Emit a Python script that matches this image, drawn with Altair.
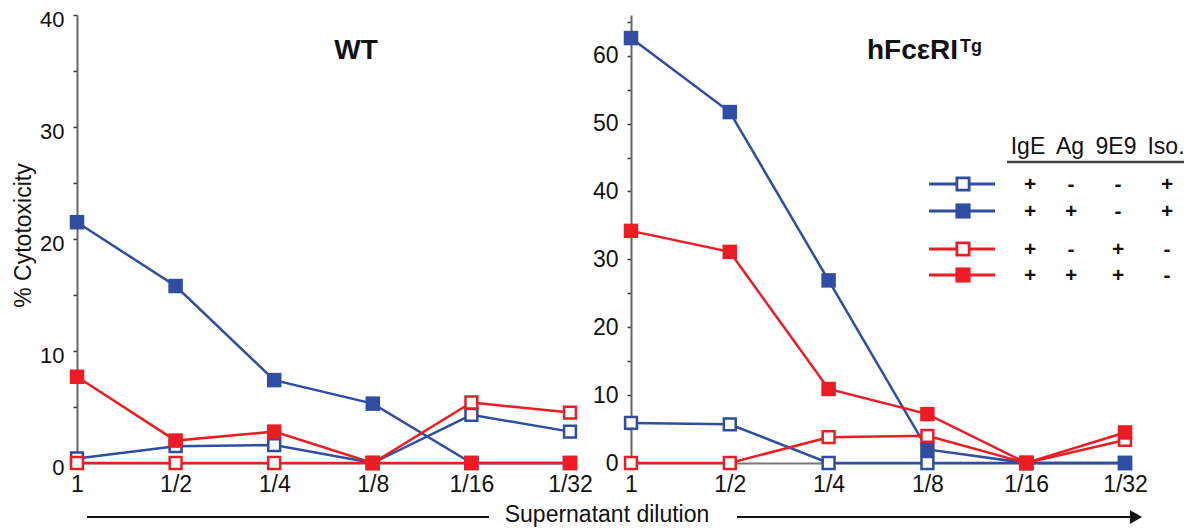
import altair as alt
import pandas as pd

# ---------------- data ----------------
dilutions = ["1", "1/2", "1/4", "1/8", "1/16", "1/32"]
series_names = ["IgE+Iso", "IgE+Ag+Iso", "IgE+9E9", "IgE+Ag+9E9"]
series_colors = ["#2F4DA1", "#2F4DA1", "#EC1C24", "#EC1C24"]
series_filled = [False, True, False, True]

# WT panel (% cytotoxicity)
wt_blue_open = [0.4, 1.5, 1.6, 0.0, 4.3, 2.8]
wt_blue_filled = [21.5, 15.8, 7.4, 5.3, 0.0, 0.0]
wt_red_open = [0.0, 0.0, 0.0, 0.0, 5.4, 4.5]
wt_red_filled = [7.7, 2.0, 2.8, 0.0, 0.0, 0.0]

# hFceRI Tg panel (% cytotoxicity)
tg_blue_open = [5.9, 5.7, 0.0, 0.0, 0.0, 0.0]
tg_blue_filled = [62.6, 51.7, 26.9, 2.0, 0.0, 0.0]
tg_red_open = [0.0, 0.0, 3.8, 4.0, 0.0, 3.4]
tg_red_filled = [34.2, 31.1, 10.9, 7.2, 0.0, 4.5]

legend_header = ["IgE", "Ag", "9E9", "Iso."]
legend_signs = [
    ["+", "-", "-", "+"],
    ["+", "+", "-", "+"],
    ["+", "-", "+", "-"],
    ["+", "+", "+", "-"],
]

FONT = "Liberation Sans"
PANEL_W = 493
PANEL_H = 448

one = pd.DataFrame({"k": [0]})


def label_expr():
    arr = ",".join("'%s'" % d for d in dilutions)
    return "[%s][datum.value]" % arr


def panel(values, ymax, ytitle, label_offset, label_size):
    xenc = alt.X(
        "x:Q",
        scale=alt.Scale(domain=[0, len(dilutions) - 1], nice=False, zero=False),
        axis=alt.Axis(
            values=list(range(len(dilutions))),
            labelExpr=label_expr(),
            ticks=False,
            domainColor="#777777",
            domainWidth=2,
            labelFontSize=23,
            labelPadding=10,
            labelColor="#111111",
            labelFlush=False,
            labelOverlap=False,
            grid=False,
            title=None,
        ),
    )
    yvals = list(range(0, int(ymax) + 1, 5))
    yaxis_kwargs = dict(
        values=yvals,
        labelExpr="datum.value % 10 == 0 ? datum.label : ''",
        tickSize=4,
        tickColor="#333333",
        tickWidth=1.5,
        domainColor="#666666",
        domainWidth=2,
        labelFontSize=label_size,
        labelPadding=9,
        labelOffset=label_offset,
        labelColor="#111111",
        labelOverlap=False,
        labelFlush=False,
        grid=False,
    )
    if ytitle:
        yaxis_kwargs.update(
            title=ytitle, titleFontSize=23, titleFontWeight="normal",
            titleColor="#111111", titleX=-47, titleY=220, titleAngle=270,
            titleAlign="center", titleBaseline="alphabetic",
        )
    else:
        yaxis_kwargs.update(title=None)
    yenc = alt.Y(
        "y:Q",
        scale=alt.Scale(domain=[0, ymax], nice=False),
        axis=alt.Axis(**yaxis_kwargs),
    )
    layers = []
    for i, name in enumerate(series_names):
        df = pd.DataFrame({"x": list(range(len(dilutions))), "y": values[i], "s": name})
        base = alt.Chart(df)
        c = series_colors[i]
        layers.append(base.mark_line(color=c, strokeWidth=2.5).encode(x=xenc, y=yenc))
        if series_filled[i]:
            pts = base.mark_point(shape="square", filled=True, fill=c, size=210,
                                  opacity=1, strokeWidth=0)
        else:
            pts = base.mark_point(shape="square", filled=True, fill="white",
                                  stroke=c, strokeWidth=2.5, size=140, opacity=1)
        layers.append(pts.encode(x=xenc, y=yenc))
    return layers


left_layers = panel([wt_blue_open, wt_blue_filled, wt_red_open, wt_red_filled], 40,
                    "% Cytotoxicity", 4, 22)
right_layers = panel([tg_blue_open, tg_blue_filled, tg_red_open, tg_red_filled], 66, None, 0, 23)

# ---- panel titles ----
left_layers.append(
    alt.Chart(pd.DataFrame({"t": ["WT"]})).mark_text(
        font=FONT, fontSize=28, fontWeight="bold", align="center", baseline="alphabetic",
        color="#111111",
    ).encode(text="t:N", x=alt.value(279), y=alt.value(44))
)
right_layers.append(
    alt.Chart(pd.DataFrame({"t": ["hFcεRI"]})).mark_text(
        font=FONT, fontSize=28, fontWeight="bold", align="right", baseline="alphabetic",
        color="#111111",
    ).encode(text="t:N", x=alt.value(327), y=alt.value(44))
)
right_layers.append(
    alt.Chart(pd.DataFrame({"t": ["Tg"]})).mark_text(
        font=FONT, fontSize=18, fontWeight="bold", align="left", baseline="alphabetic",
        color="#111111",
    ).encode(text="t:N", x=alt.value(329), y=alt.value(37))
)

# ---- bottom axis caption with arrow ----
left_layers.append(
    alt.Chart(pd.DataFrame({"t": ["Supernatant dilution"]})).mark_text(
        font=FONT, fontSize=23, align="center", baseline="middle", color="#111111",
    ).encode(text="t:N", x=alt.value(530), y=alt.value(500))
)
left_layers.append(
    alt.Chart(one).mark_rule(color="#111111", strokeWidth=2).encode(
        x=alt.value(10), x2=alt.value(412), y=alt.value(502))
)
right_layers.append(
    alt.Chart(one).mark_rule(color="#111111", strokeWidth=2).encode(
        x=alt.value(106), x2=alt.value(502), y=alt.value(502))
)
right_layers.append(
    alt.Chart(one).mark_point(shape="triangle-right", filled=True, fill="#111111",
                              size=200, opacity=1, strokeWidth=0).encode(
        x=alt.value(505), y=alt.value(502))
)

# ---- legend table ----
header_x = [397, 439, 485, 535]
sign_x = [399, 440, 487, 536]
row_y = [169, 196, 234, 260]

hdr = pd.DataFrame({"t": legend_header, "px": header_x})
right_layers.append(
    alt.Chart(hdr).mark_text(font=FONT, fontSize=23, align="center", baseline="middle",
                             color="#111111").encode(
        text="t:N", x=alt.X("px:Q", scale=None), y=alt.value(132))
)
right_layers.append(
    alt.Chart(one).mark_rule(color="#444444", strokeWidth=2.5).encode(
        x=alt.value(376), x2=alt.value(555), y=alt.value(147))
)
for r, signs in enumerate(legend_signs):
    c = series_colors[r]
    yv = row_y[r]
    right_layers.append(
        alt.Chart(one).mark_rule(color=c, strokeWidth=3).encode(
            x=alt.value(298), x2=alt.value(364), y=alt.value(yv))
    )
    if series_filled[r]:
        mk = alt.Chart(one).mark_point(shape="square", filled=True, fill=c, size=230,
                                       opacity=1, strokeWidth=0)
    else:
        mk = alt.Chart(one).mark_point(shape="square", filled=True, fill="white", stroke=c,
                                       strokeWidth=2.8, size=150, opacity=1)
    right_layers.append(mk.encode(x=alt.value(332), y=alt.value(yv)))
    sdf = pd.DataFrame({"t": signs, "px": sign_x})
    right_layers.append(
        alt.Chart(sdf).mark_text(font=FONT, fontSize=21, fontWeight="bold", align="center",
                                 baseline="middle", color="#111111").encode(
            text="t:N", x=alt.X("px:Q", scale=None), y=alt.value(yv + 1))
    )

left = alt.layer(*left_layers).properties(width=PANEL_W, height=PANEL_H)
right = alt.layer(*right_layers).properties(width=494, height=PANEL_H)

chart = (
    alt.hconcat(left, right, spacing=61, bounds="flush")
    .resolve_scale(x="independent", y="independent")
    .configure(font=FONT)
    .configure_view(stroke=None, strokeWidth=0)
    .properties(
        autosize=alt.AutoSizeParams(type="none"),
        padding={"left": 69, "top": 7, "right": 1107, "bottom": 507},
        background="white",
    )
)

chart.save("out.html", embed_options={"renderer": "svg", "actions": False})
